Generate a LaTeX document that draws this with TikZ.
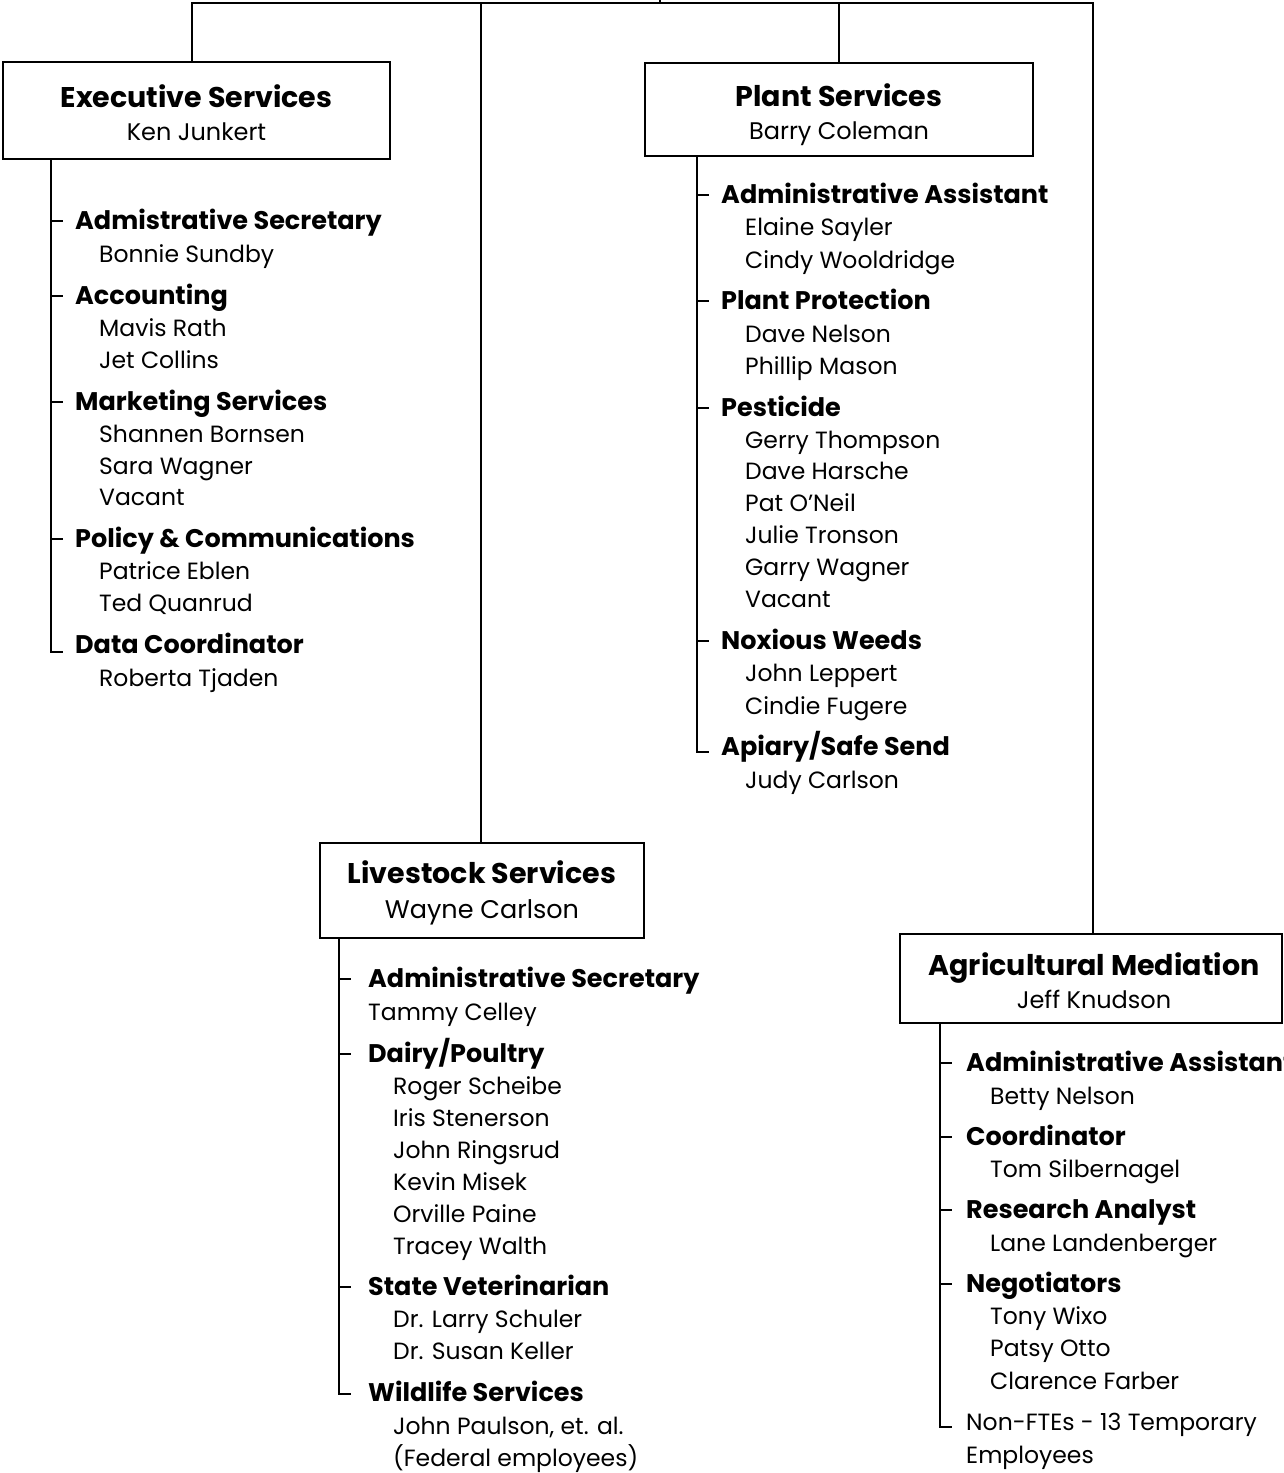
\documentclass[tikz,border=0pt]{standalone}
\usepackage{fontspec}
\setmainfont{Poppins}
\usetikzlibrary{calc}
\newcommand\hdfont{\fontsize{25.5}{30}\selectfont\bfseries}
\newcommand\nmfont{\fontsize{23.5}{30}\selectfont}
\newcommand\btfont{\fontsize{28.5}{34}\selectfont\bfseries}
\newcommand\bnfont{\fontsize{24}{34}\selectfont}
\tikzset{
  ln/.style={line width=2pt, line cap=rect},
  box/.style={draw, line width=2.3pt, fill=white, inner sep=0pt},
  bt/.style={anchor=center, inner sep=0pt, text height=19pt, text depth=0pt, font=\btfont},
  bn/.style={anchor=center, inner sep=0pt, text height=17pt, text depth=0pt, font=\bnfont},
  hd/.style={anchor=west, inner sep=0pt, text height=17.5pt, text depth=0pt, font=\hdfont},
  nm/.style={anchor=west, inner sep=0pt, text height=17pt, text depth=0pt, font=\nmfont},
}
\begin{document}
\begin{tikzpicture}[x=1pt, y=-1pt]
\clip (0,0) rectangle (1283,1473);
\fill[white] (0,0) rectangle (1283,1473);
% boxes
\node[box, minimum width=387pt, minimum height=97pt] (exec) at (196.5,110.5) {};
\node[bt] (execT) at ($(exec.center)+(0,-13)$) {Executive Services};
\node[bn] (execN) at ($(exec.center)+(0,21)$) {Ken Junkert};
\node[box, minimum width=388pt, minimum height=93pt] (plant) at (839,109.5) {};
\node[bt] (plantT) at ($(plant.center)+(0,-13)$) {Plant Services};
\node[bn] (plantN) at ($(plant.center)+(0,21)$) {Barry Coleman};
\node[box, minimum width=324pt, minimum height=95pt] (live) at (482,890.5) {};
\node[bt] (liveT) at ($(live.center)+(0,-17)$) {Livestock Services};
\node[bn, font=\fontsize{25.5}{34}\selectfont] (liveN) at ($(live.center)+(0,19)$) {Wayne Carlson};
\node[box, minimum width=382pt, minimum height=89pt] (ag) at (1091,978.5) {};
\node[bt] (agT) at ($(ag.center)+(3,-13)$) {Agricultural Mediation};
\node[bn] (agN) at ($(ag.center)+(3,21)$) {Jeff Knudson};
% top connectors
\coordinate (top) at (660,0);
\coordinate (jt) at (660,3);
\coordinate (bl) at (192,3);
\coordinate (bm) at (481,3);
\coordinate (bp) at (839,3);
\coordinate (br) at (1093,3);
\draw[ln] (top) -- (jt);
\draw[ln] (bl) -- (br);
\draw[ln] (bl) -- (bl |- exec.north);
\draw[ln] (bm) -- (bm |- live.north);
\draw[ln] (bp) -- (bp |- plant.north);
\draw[ln] (br) -- (br |- ag.north);

% ===== Executive list
\node[hd] (e1) at (75,221) {Admistrative Secretary};
\node[nm] (e1a) at (99,254) {Bonnie Sundby};
\node[hd] (e2) at (75,296) {Accounting};
\node[nm] (e2a) at (99,328) {Mavis Rath};
\node[nm] (e2b) at (99,360) {Jet Collins};
\node[hd] (e3) at (75,402) {Marketing Services};
\node[nm] (e3a) at (99,434) {Shannen Bornsen};
\node[nm] (e3b) at (99,466) {Sara Wagner};
\node[nm] (e3c) at (99,497) {Vacant};
\node[hd] (e4) at (75,539) {Policy \& Communications};
\node[nm] (e4a) at (99,571) {Patrice Eblen};
\node[nm] (e4b) at (99,603) {Ted Quanrud};
\node[hd] (e5) at (75,645) {Data Coordinator};
\node[nm] (e5a) at (99,678) {Roberta Tjaden};
\coordinate (es) at (51,0);
\draw[ln] (es |- exec.south) -- ($(es |- e5.west)+(0,7)$) -- ++(11,0);
\foreach \n in {e1,e2,e3,e4} \draw[ln] (es |- \n.west) -- ++(11,0);

% ===== Plant list
\node[hd] (p1) at (721,195) {Administrative Assistant};
\node[nm] (p1a) at (745,227) {Elaine Sayler};
\node[nm] (p1b) at (745,260) {Cindy Wooldridge};
\node[hd] (p2) at (721,301) {Plant Protection};
\node[nm] (p2a) at (745,334) {Dave Nelson};
\node[nm] (p2b) at (745,366) {Phillip Mason};
\node[hd] (p3) at (721,408) {Pesticide};
\node[nm] (p3a) at (745,440) {Gerry Thompson};
\node[nm] (p3b) at (745,471) {Dave Harsche};
\node[nm] (p3c) at (745,503) {Pat O’Neil};
\node[nm] (p3d) at (745,535) {Julie Tronson};
\node[nm] (p3e) at (745,567) {Garry Wagner};
\node[nm] (p3f) at (745,599) {Vacant};
\node[hd] (p4) at (721,641) {Noxious Weeds};
\node[nm] (p4a) at (745,673) {John Leppert};
\node[nm] (p4b) at (745,706) {Cindie Fugere};
\node[hd] (p5) at (721,747) {Apiary/Safe Send};
\node[nm] (p5a) at (745,780) {Judy Carlson};
\coordinate (ps) at (697,0);
\draw[ln] (ps |- plant.south) -- ($(ps |- p5.west)+(0,5)$) -- ++(11,0);
\foreach \n in {p1,p2,p3,p4} \draw[ln] (ps |- \n.west) -- ++(11,0);

% ===== Livestock list
\node[hd] (l1) at (368,979) {Administrative Secretary};
\node[nm] (l1a) at (368,1012) {Tammy Celley};
\node[hd] (l2) at (368,1054) {Dairy/Poultry};
\node[nm] (l2a) at (393,1086) {Roger Scheibe};
\node[nm] (l2b) at (393,1118) {Iris Stenerson};
\node[nm] (l2c) at (393,1150) {John Ringsrud};
\node[nm] (l2d) at (393,1182) {Kevin Misek};
\node[nm] (l2e) at (393,1214) {Orville Paine};
\node[nm] (l2f) at (393,1246) {Tracey Walth};
\node[hd] (l3) at (368,1287) {State Veterinarian};
\node[nm] (l3a) at (393,1319) {Dr. Larry Schuler};
\node[nm] (l3b) at (393,1351) {Dr. Susan Keller};
\node[hd] (l4) at (368,1393) {Wildlife Services};
\node[nm] (l4a) at (393,1426) {John Paulson, et. al.};
\node[nm] (l4b) at (393,1458) {(Federal employees)};
\coordinate (ls) at (339,0);
\draw[ln] (ls |- live.south) -- ($(ls |- l4.west)+(0,1)$) -- ++(11,0);
\foreach \n in {l1,l2,l3} \draw[ln] (ls |- \n.west) -- ++(11,0);

% ===== Ag Mediation list
\node[hd] (a1) at (966,1063) {Administrative Assistant};
\node[nm] (a1a) at (990,1096) {Betty Nelson};
\node[hd] (a2) at (966,1137) {Coordinator};
\node[nm] (a2a) at (990,1169) {Tom Silbernagel};
\node[hd] (a3) at (966,1210) {Research Analyst};
\node[nm] (a3a) at (990,1243) {Lane Landenberger};
\node[hd] (a4) at (966,1284) {Negotiators};
\node[nm] (a4a) at (990,1316) {Tony Wixo};
\node[nm] (a4b) at (990,1348) {Patsy Otto};
\node[nm] (a4c) at (990,1381) {Clarence Farber};
\node[nm] (a5) at (966,1422) {Non-FTEs - 13 Temporary};
\node[nm] (a5a) at (966,1455) {Employees};
\coordinate (as) at (940,0);
\draw[ln] (as |- ag.south) -- ($(as |- a5.west)+(0,5)$) -- ++(11,0);
\foreach \n in {a1,a2,a3,a4} \draw[ln] (as |- \n.west) -- ++(11,0);
\end{tikzpicture}
\end{document}
